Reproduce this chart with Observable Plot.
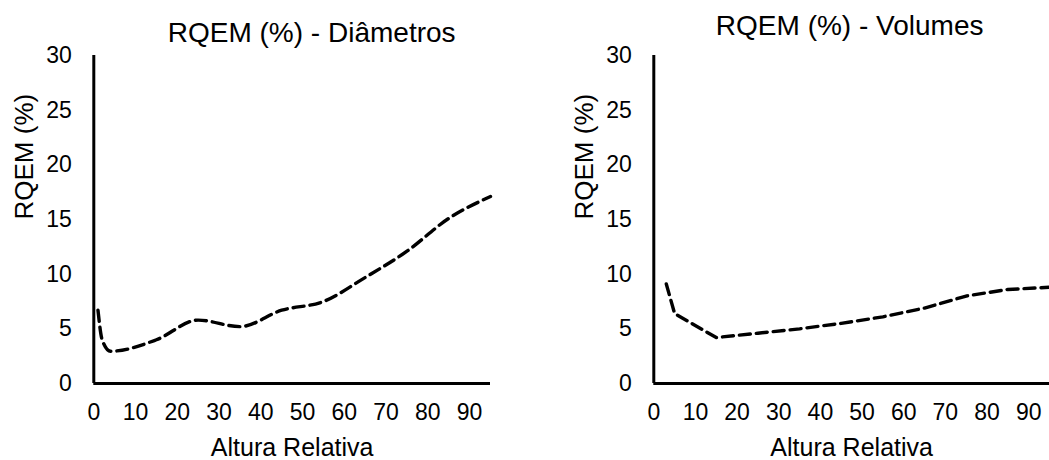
<!DOCTYPE html>
<html>
<head>
<meta charset="utf-8">
<script src="https://cdn.jsdelivr.net/npm/d3@7"></script>
<script src="https://cdn.jsdelivr.net/npm/@observablehq/plot@0.6"></script>
<style>
  html, body { margin: 0; padding: 0; background: #fff; }
  #wrap { position: relative; width: 1049px; height: 460px; overflow: hidden; background: #fff; }
  #wrap svg { position: absolute; top: 0; }
</style>
</head>
<body>
<div id="wrap"></div>
<script>
// ---- data ----
const alturaDiametros = [1, 2, 4, 15, 25, 35, 45, 55, 65, 75, 85, 95];
const rqemDiametros   = [6.7, 4.0, 2.95, 4.0, 5.8, 5.2, 6.7, 7.5, 9.7, 12.1, 15.1, 17.1];
const alturaVolumes   = [3, 5, 15, 25, 35, 45, 55, 65, 75, 85, 95];
const rqemVolumes     = [9.1, 6.4, 4.2, 4.6, 5.0, 5.5, 6.1, 6.9, 8.0, 8.6, 8.8];
const xTicks = [0, 10, 20, 30, 40, 50, 60, 70, 80, 90];
const yTicks = [0, 5, 10, 15, 20, 25, 30];
const titles = ["RQEM (%) - Diâmetros", "RQEM (%) - Volumes"];
const yLabel = "RQEM (%)";
const xLabel = "Altura Relativa";

const FONT = "'Liberation Sans', Arial, Helvetica, sans-serif";

function panel(xs, ys, title, opts) {
  const rows = xs.map((x, i) => ({x, y: ys[i]}));
  return Plot.plot({
    width: 525,
    height: 460,
    marginLeft: opts.marginLeft,
    marginRight: opts.marginRight,
    marginTop: 55,
    marginBottom: 77,
    style: {fontFamily: FONT, fontSize: "23px", color: "#000", background: "transparent", overflow: "visible"},
    x: {domain: [0, 95]},
    y: {domain: [0, 30]},
    marks: [
      Plot.axisX({ticks: xTicks, tickSize: 0, tickPadding: 20, fontSize: 23, label: null, fill: "#000"}),
      Plot.axisY({ticks: yTicks, tickSize: 0, tickPadding: 22, fontSize: 23, label: null, fill: "#000"}),
      Plot.line(rows, {x: "x", y: "y", stroke: "#000", strokeWidth: 3.4, strokeDasharray: "11,6", curve: opts.curve}),
      Plot.ruleX([0], {stroke: "#000", strokeWidth: 3}),
      Plot.ruleY([0], {stroke: "#000", strokeWidth: 3}),
      Plot.text([title], {text: d => d, frameAnchor: "top", lineAnchor: "middle", dx: opts.titleDx, dy: opts.titleDy, fontSize: 28, fill: "#000"}),
      Plot.text([yLabel], {text: d => d, frameAnchor: "left", lineAnchor: "middle", rotate: -90, dx: -69.3, fontSize: 26, fill: "#000"}),
      Plot.text([xLabel], {text: d => d, frameAnchor: "bottom", lineAnchor: "middle", dy: 64, fontSize: 25, fill: "#000"})
    ]
  });
}

const wrap = document.getElementById("wrap");
const left = panel(alturaDiametros, rqemDiametros, titles[0], {marginLeft: 93.3, marginRight: 35, titleDx: 19.5, titleDy: -22.8, curve: "monotone-x"});
left.style.left = "0px";
wrap.appendChild(left);
const right = panel(alturaVolumes, rqemVolumes, titles[1], {marginLeft: 129.3, marginRight: 0, titleDx: -2, titleDy: -29.8, curve: "linear"});
right.style.left = "524px";
wrap.appendChild(right);
</script>
</body>
</html>
